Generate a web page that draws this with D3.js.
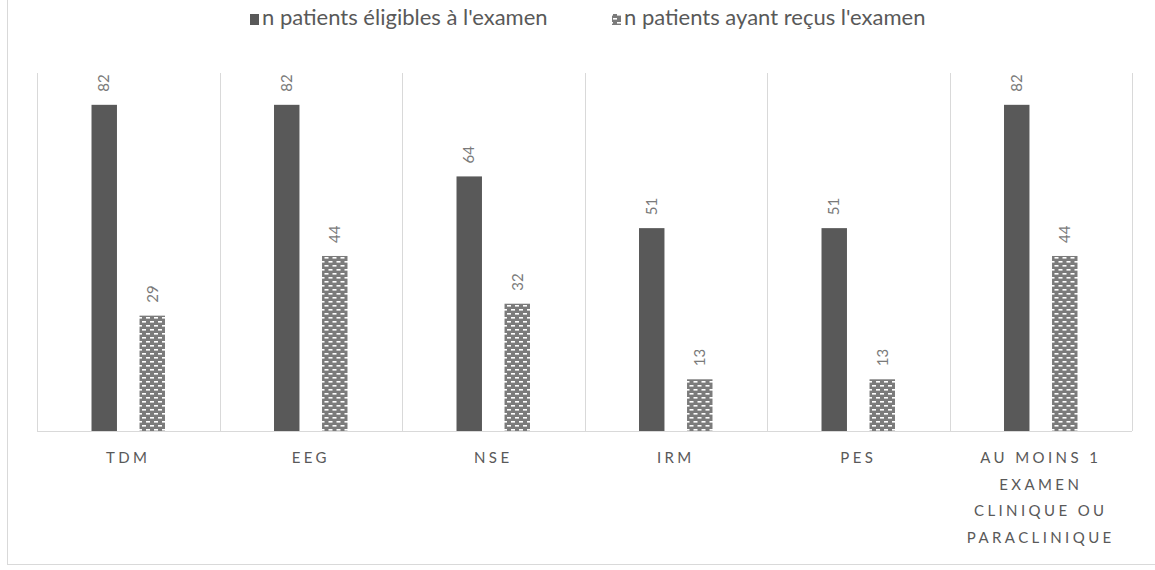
<!DOCTYPE html>
<html>
<head>
<meta charset="utf-8">
<script src="https://cdn.jsdelivr.net/npm/d3@7"></script>
<style>
  body { margin: 0; background: #fff; }
  svg { display: block; font-family: Lato, "Open Sans", sans-serif; }
</style>
</head>
<body>
<div id="chart"></div>
<script>
// data
const categories = ["TDM", "EEG", "NSE", "IRM", "PES", "AU MOINS 1\nEXAMEN\nCLINIQUE OU\nPARACLINIQUE"];
const seriesNames = ["n patients éligibles à l'examen", "n patients ayant reçus l'examen"];
const eligibles = [82, 82, 64, 51, 51, 82];
const recus = [29, 44, 32, 13, 13, 44];

const width = 1155, height = 570;
const margin = { top: 73, right: 23, bottom: 139, left: 37 };

const svg = d3.select("#chart").append("svg")
  .attr("width", width)
  .attr("height", height);

const defs = svg.append("defs");
// brick-like dashed pattern for the second series
const pat = defs.append("pattern")
  .attr("id", "brick")
  .attr("patternUnits", "userSpaceOnUse")
  .attr("width", 8)
  .attr("height", 8);
pat.append("rect").attr("width", 8).attr("height", 8).attr("fill", "#7b7b7b");
pat.append("rect").attr("x", 1).attr("y", 1).attr("width", 4).attr("height", 1.6).attr("fill", "#ffffff");
pat.append("rect").attr("x", 5).attr("y", 5).attr("width", 4).attr("height", 1.6).attr("fill", "#ffffff");
pat.append("rect").attr("x", -3).attr("y", 5).attr("width", 4).attr("height", 1.6).attr("fill", "#ffffff");

const fills = ["#595959", "url(#brick)"];

// outer chart border (only left and bottom edges visible)
svg.append("rect")
  .attr("x", 7.5)
  .attr("y", -2)
  .attr("width", 1200)
  .attr("height", 566.5)
  .attr("fill", "none")
  .attr("stroke", "#d9d9d9")
  .attr("stroke-width", 1);

const x0 = d3.scaleBand()
  .domain(d3.range(categories.length))
  .range([margin.left, width - margin.right])
  .padding(0);

const x1 = d3.scaleBand()
  .domain([0, 1])
  .range([0, x0.bandwidth()])
  .paddingInner(0.47)
  .paddingOuter(1.135);

const y = d3.scaleLinear()
  .domain([0, 90])
  .range([height - margin.bottom, margin.top]);

// category separators
const seps = d3.range(categories.length + 1).map((i) =>
  i < categories.length ? x0(i) : x0(categories.length - 1) + x0.bandwidth()
);
svg.append("g")
  .selectAll("line")
  .data(seps)
  .join("line")
  .attr("x1", (d) => Math.round(d) + 0.5)
  .attr("x2", (d) => Math.round(d) + 0.5)
  .attr("y1", y(90))
  .attr("y2", y(0))
  .attr("stroke", "#d9d9d9")
  .attr("stroke-width", 1);

const rows = categories.map((c, i) => ({ i, values: [eligibles[i], recus[i]] }));

const groups = svg.append("g")
  .selectAll("g")
  .data(rows)
  .join("g")
  .attr("transform", (d) => "translate(" + x0(d.i) + ",0)");

groups.selectAll("rect")
  .data((d) => d.values.map((v, s) => ({ v, s })))
  .join("rect")
  .attr("x", (d) => x1(d.s))
  .attr("y", (d) => y(d.v))
  .attr("width", x1.bandwidth())
  .attr("height", (d) => y(0) - y(d.v))
  .attr("fill", (d) => fills[d.s]);

// rotated value labels
groups.selectAll("text")
  .data((d) => d.values.map((v, s) => ({ v, s })))
  .join("text")
  .attr("transform", (d) =>
    "translate(" + (x1(d.s) + x1.bandwidth() / 2) + "," + (y(d.v) - 13) + ") rotate(-90)")
  .attr("dy", "0.35em")
  .attr("text-anchor", "start")
  .attr("fill", "#7a7a7a")
  .style("font-size", "15px")
  .text((d) => d.v);

// x axis line
svg.append("line")
  .attr("x1", margin.left)
  .attr("x2", width - margin.right)
  .attr("y1", y(0) + 0.5)
  .attr("y2", y(0) + 0.5)
  .attr("stroke", "#d9d9d9")
  .attr("stroke-width", 1.2);

// category labels
const labels = svg.append("g")
  .selectAll("text")
  .data(categories)
  .join("text")
  .attr("x", (d, i) => x0(i) + x0.bandwidth() / 2)
  .attr("y", y(0) + 32)
  .attr("text-anchor", "middle")
  .attr("fill", "#595959")
  .style("font-size", "15px")
  .style("letter-spacing", "3.4px");

labels.selectAll("tspan")
  .data((d) => d.split("\n"))
  .join("tspan")
  .attr("x", function () { return this.parentNode.getAttribute("x"); })
  .attr("dy", (d, i) => (i === 0 ? 0 : 26.5))
  .text((d) => d);

// legend
const legend = svg.append("g").attr("transform", "translate(0,25)");
const legendX = [250, 612];
seriesNames.forEach((name, i) => {
  const g = legend.append("g").attr("transform", "translate(" + legendX[i] + ",0)");
  g.append("rect")
    .attr("x", 0)
    .attr("y", -11)
    .attr("width", 9)
    .attr("height", 11)
    .attr("fill", fills[i]);
  g.append("text")
    .attr("x", 12)
    .attr("y", 0)
    .attr("fill", "#595959")
    .style("font-size", "22px")
    .text(name);
});
</script>
</body>
</html>
